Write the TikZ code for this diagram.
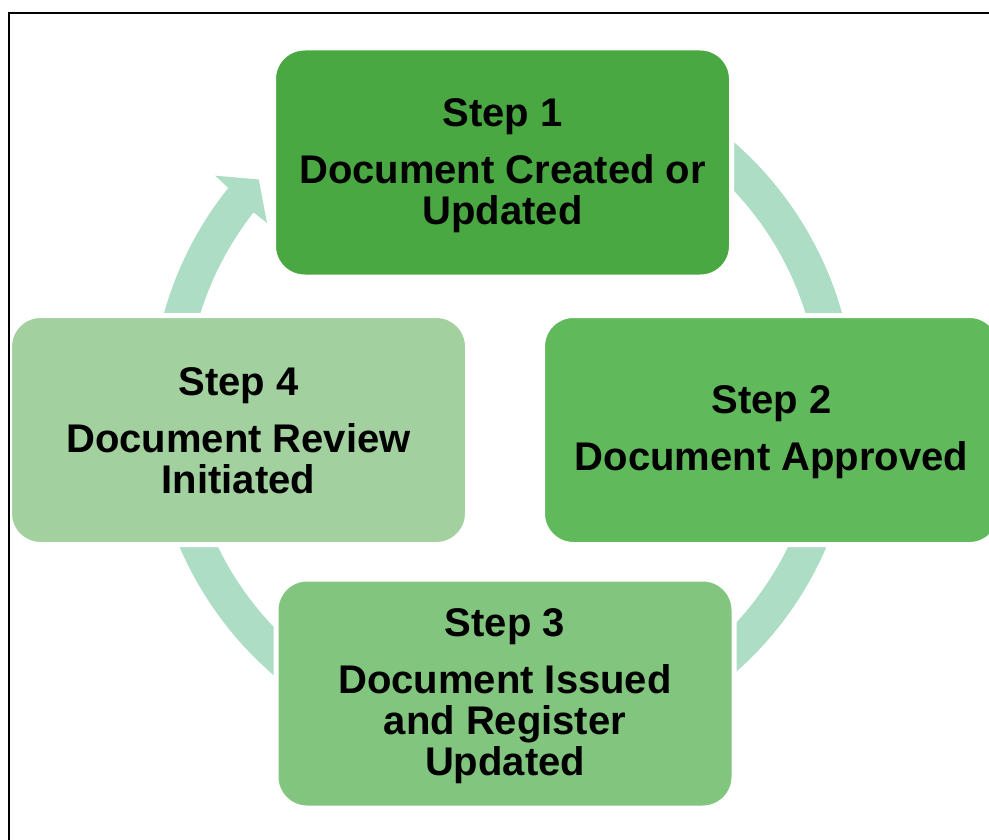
\documentclass[tikz,border=0pt]{standalone}
\usepackage{fontspec}
\setmainfont{Liberation Sans}
\definecolor{gA}{RGB}{74,168,67}
\definecolor{gB}{RGB}{96,185,91}
\definecolor{gC}{RGB}{130,197,126}
\definecolor{gD}{RGB}{162,208,159}
\definecolor{band}{RGB}{174,221,198}
\tikzset{
  stepbox/.style={rounded corners=31pt, draw=white, line width=5pt, inner sep=0pt,
    minimum width=458pt, minimum height=229pt},
  steptext/.style={inner sep=0pt, align=center,
    font=\fontsize{40}{41}\selectfont\bfseries}
}
\begin{document}
\begin{tikzpicture}[x=1pt,y=-1pt]
\useasboundingbox (0,0) rectangle (989,840);
\clip (0,0) rectangle (989,840);
\coordinate (C) at (503,408);
% circular band with arrow head
\fill[band] ([shift={(-120:352)}]C) arc[start angle=-120, end angle=218.7, radius=352]
  -- ([shift={(218.9:370)}]C) -- ([shift={(223.1:334.5)}]C)
  -- ([shift={(218.1:300)}]C) -- ([shift={(218.1:317)}]C)
  arc[start angle=218.1, end angle=-120, radius=317] -- cycle;
% boxes
\node[stepbox, fill=gA] (s1) at (502.5,162.5) {};
\node[stepbox, fill=gB] (s2) at (771.5,430) {};
\node[stepbox, fill=gC] (s3) at (505,693.5) {};
\node[stepbox, fill=gD] (s4) at (238.5,430) {};
\node[steptext] (t1) at ([yshift=-3pt]s1.center) {Step 1\\[16pt]Document Created or\\Updated};
\node[steptext] (t2) at ([yshift=-2.5pt]s2.center) {Step 2\\[16pt]Document Approved};
\node[steptext] (t3) at ([yshift=-3pt]s3.center) {Step 3\\[16pt]Document Issued\\and Register\\Updated};
\node[steptext] (t4) at ([yshift=-0.5pt]s4.center) {Step 4\\[16pt]Document Review\\Initiated};
% frame
\draw[line width=2pt] (1100,13) -- (9,13) -- (9,900);
\end{tikzpicture}
\end{document}
